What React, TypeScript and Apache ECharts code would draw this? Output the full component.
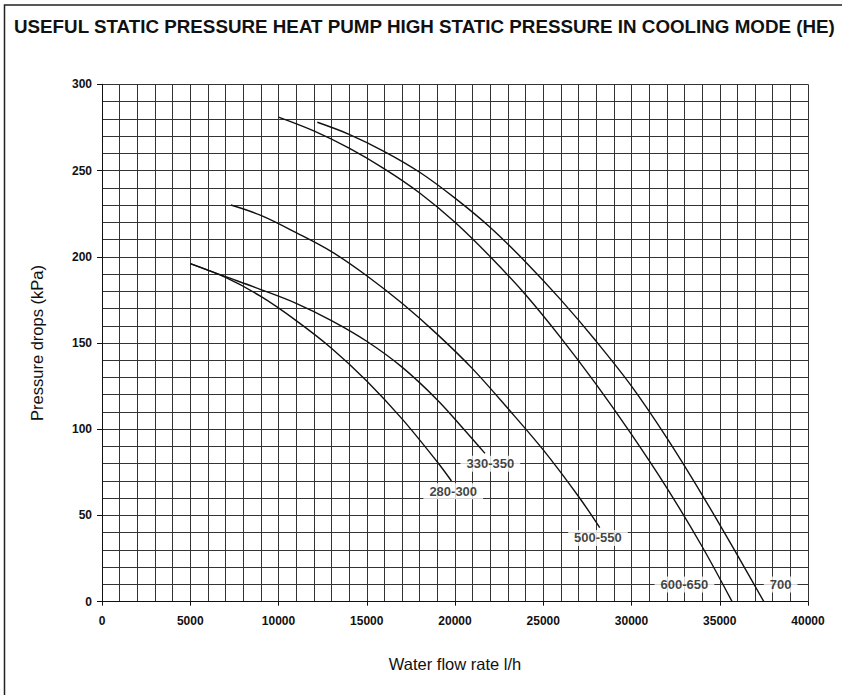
import React, { useEffect, useRef } from 'react';
import * as echarts from 'echarts';

const TITLE = 'USEFUL STATIC PRESSURE HEAT PUMP HIGH STATIC PRESSURE IN COOLING MODE (HE)';
const X_NAME = 'Water flow rate l/h';
const Y_NAME = 'Pressure drops (kPa)';

// [water flow l/h, pressure drop kPa]
const curve280_300: [number, number][] = [[5000, 196], [7000, 188], [9000, 177], [11000, 163], [13000, 147], [15000, 128], [17000, 106], [19000, 81], [19800, 70]];
const curve330_350: [number, number][] = [[5000, 196], [7000, 188.5], [9000, 181], [11000, 173], [13000, 163], [15000, 151], [17000, 136], [19000, 117], [20500, 100], [21700, 86]];
const curve500_550: [number, number][] = [[7300, 230], [9000, 224], [11000, 214], [13000, 203], [15000, 189], [17000, 173], [19000, 155], [21000, 135], [23000, 112], [25000, 88], [27000, 61], [28200, 43]];
const curve600_650: [number, number][] = [[10000, 281], [12000, 273], [14000, 263], [16000, 251], [18000, 237], [20000, 220], [22000, 200], [24000, 178], [26000, 153], [28000, 126], [30000, 97], [32000, 66], [34000, 32], [35700, 0]];
const curve700: [number, number][] = [[12200, 278], [14000, 271], [16000, 261], [18000, 249], [20000, 234], [22000, 217], [24000, 197], [26000, 175], [28000, 151], [30000, 125], [32000, 95], [34000, 62], [36000, 27], [37500, 0]];

const curveNames = ['280-300', '330-350', '500-550', '600-650', '700'];
const curveData = [curve280_300, curve330_350, curve500_550, curve600_650, curve700];
const labelX = [19900, 22000, 28100, 33000, 38450];
const labelY = [64, 80, 37, 10, 10];

const X_MIN = 0, X_MAX = 40000, X_STEP = 5000;
const Y_MIN = 0, Y_MAX = 300, Y_STEP = 50;

const FONT = '"Liberation Sans", Arial, sans-serif';

export default function App() {
  const ref = useRef<HTMLDivElement>(null);
  useEffect(() => {
    if (!ref.current) return;
    const chart = echarts.init(ref.current, undefined, { renderer: 'svg' });
    const gridColor = '#333';
    const lineSeries = curveNames.map((n, i) => ({
      name: n,
      type: 'line',
      data: curveData[i],
      smooth: 0.35,
      symbol: 'none',
      lineStyle: { color: '#111', width: 1.4 },
      z: 3,
    }));
    chart.setOption({
      animation: false,
      backgroundColor: '#fff',
      title: {
        text: TITLE,
        left: 14,
        top: 17,
        padding: 0,
        textStyle: { fontFamily: FONT, fontWeight: 'bold', fontSize: 18.8, color: '#111' },
      },
      graphic: [
        {
          type: 'rect',
          shape: { x: 4.5, y: 5, width: 900, height: 800 },
          style: { fill: 'none', stroke: '#222', lineWidth: 1.5 },
          silent: true,
          z: -10,
        },
      ],
      grid: { left: 102, top: 84.3, width: 706, height: 517.4, outerBoundsMode: 'none', containLabel: false },
      xAxis: {
        type: 'value',
        min: X_MIN,
        max: X_MAX,
        interval: X_STEP,
        name: X_NAME,
        nameLocation: 'middle',
        nameGap: 54,
        nameTextStyle: { fontFamily: FONT, fontSize: 16.5, color: '#111' },
        axisLine: { show: true, lineStyle: { color: '#111', width: 1 } },
        axisTick: { show: true, length: 4, inside: false, lineStyle: { color: '#111' } },
        minorTick: { show: false, splitNumber: 5 },
        axisLabel: { margin: 13, fontFamily: FONT, fontWeight: 'bold', fontSize: 12, color: '#111', formatter: (v: number) => String(v) },
        splitLine: { show: true, lineStyle: { color: gridColor, width: 1 } },
        minorSplitLine: { show: true, lineStyle: { color: gridColor, width: 1 } },
      },
      yAxis: {
        type: 'value',
        min: Y_MIN,
        max: Y_MAX,
        interval: Y_STEP,
        name: Y_NAME,
        nameLocation: 'middle',
        nameGap: 57,
        nameRotate: 90,
        nameTextStyle: { fontFamily: FONT, fontSize: 16.5, color: '#111' },
        axisLine: { show: true, lineStyle: { color: '#111', width: 1 } },
        axisTick: { show: true, length: 5, inside: false, lineStyle: { color: '#111' } },
        minorTick: { show: false, splitNumber: 5 },
        axisLabel: { margin: 10, fontFamily: FONT, fontWeight: 'bold', fontSize: 12, color: '#111', formatter: (v: number) => String(v) },
        splitLine: { show: true, lineStyle: { color: gridColor, width: 1 } },
        minorSplitLine: { show: true, lineStyle: { color: gridColor, width: 1 } },
      },
      series: [
        ...lineSeries,
        {
          name: 'labels',
          type: 'scatter',
          symbolSize: 0,
          z: 5,
          data: curveNames.map((n, i) => ({ name: n, value: [labelX[i], labelY[i]] })),
          label: {
            show: true,
            position: 'inside',
            formatter: (p: any) => p.name,
            fontFamily: FONT,
            fontWeight: 'bold',
            fontSize: 13,
            color: '#111',
            backgroundColor: '#fff',
            padding: [2, 6, 1, 6],
          },
          silent: true,
        },
      ],
    });
    return () => chart.dispose();
  }, []);
  return <div ref={ref} style={{ position: 'fixed', left: 0, top: 0, width: 842, height: 695 }} />;
}
